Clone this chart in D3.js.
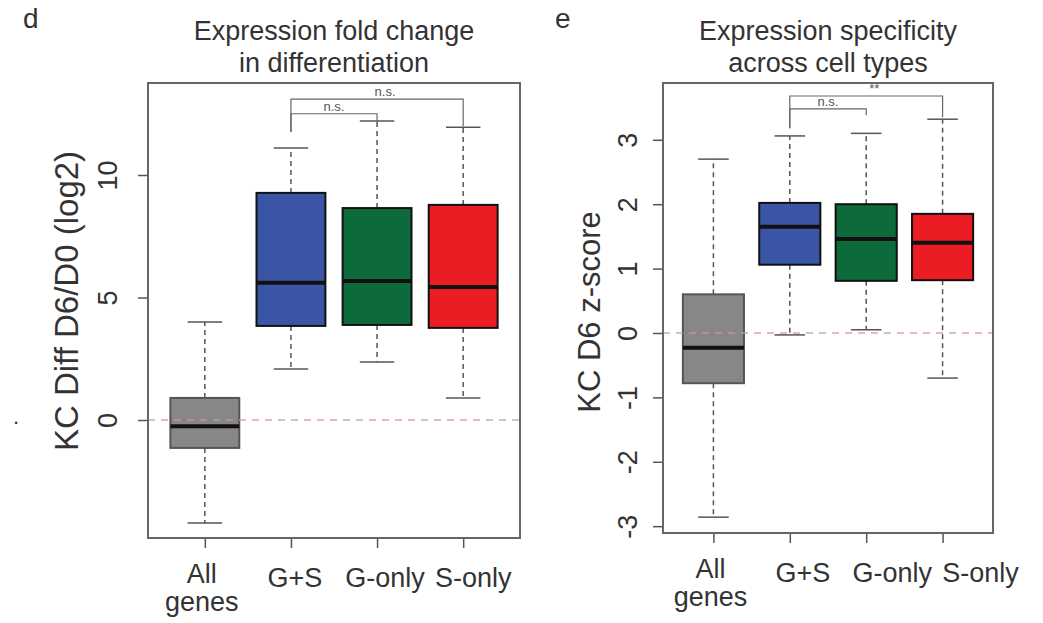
<!DOCTYPE html>
<html>
<head>
<meta charset="utf-8">
<title>Expression boxplots</title>
<script src="https://cdn.jsdelivr.net/npm/d3@7/dist/d3.min.js"></script>
<style>
  body { margin: 0; background: #fff; }
  svg text { font-family: "Liberation Sans", Arial, sans-serif; fill: #333; }
</style>
</head>
<body>
<script>
// categories shared by both panels
var groups = ["All genes", "G+S", "G-only", "S-only"];
var groupColors = ["#878787", "#3a55a6", "#0d6a3a", "#ec1c24"];

// panel d: KC Diff D6/D0 (log2)
var foldLow  = [-4.2, 2.08, 2.37, 0.9];
var foldQ1   = [-1.14, 3.84, 3.88, 3.76];
var foldMed  = [-0.25, 5.6, 5.67, 5.43];
var foldQ3   = [0.9, 9.27, 8.65, 8.78];
var foldHigh = [4.0, 11.1, 12.2, 11.95];
var foldTicks = [0, 5, 10];
var foldBrackets = [
  {from: 2, to: 3, level: 12.5, leftEnd: 11.75, rightEnd: 12.2, label: "n.s."},
  {from: 2, to: 4, level: 13.1, leftEnd: 11.75, rightEnd: 12.0, label: "n.s."}
];

// panel e: KC D6 z-score
var zLow  = [-2.86, -0.03, 0.05, -0.70];
var zQ1   = [-0.78, 1.06, 0.81, 0.82];
var zMed  = [-0.23, 1.65, 1.46, 1.40];
var zQ3   = [0.6, 2.02, 2.0, 1.85];
var zHigh = [2.70, 3.06, 3.1, 3.32];
var zTicks = [-3, -2, -1, 0, 1, 2, 3];
var zBrackets = [
  {from: 2, to: 3, level: 3.48, leftEnd: 3.18, rightEnd: 3.38, label: "n.s."},
  {from: 2, to: 4, level: 3.68, leftEnd: 3.18, rightEnd: 3.35, label: "**"}
];

var svg = d3.select("body").append("svg")
    .attr("width", 1043)
    .attr("height", 623);

// stray mark on the left edge of the scan
svg.append("text").attr("x", 13).attr("y", 424).style("font-size", "22px").text(".");

function drawPanel(p) {
  var g = svg.append("g");
  var x = d3.scaleLinear().domain([0.34, 4.66]).range([p.left, p.right]);
  var y = d3.scaleLinear().domain(p.yDomain).range([p.bottom, p.top]);

  // letter + title
  g.append("text").attr("x", p.letterX).attr("y", 28)
    .style("font-size", "28px").text(p.letter);
  p.title.forEach(function (t, i) {
    g.append("text").attr("x", (p.left + p.right) / 2).attr("y", 40 + i * 32)
      .attr("text-anchor", "middle").style("font-size", "27px").text(t);
  });

  // y axis with R style rotated tick labels
  var ya = g.append("g").attr("transform", "translate(" + p.left + ",0)")
    .call(d3.axisLeft(y).tickValues(p.ticks).tickSize(10).tickFormat(function (d) { return String(d); }));
  ya.select(".domain").remove();
  ya.selectAll("line").attr("stroke", "#555").attr("stroke-width", 1.5);
  ya.selectAll("text")
    .attr("transform", "rotate(-90)")
    .attr("x", 0).attr("y", -p.tickGap).attr("dy", 0)
    .attr("text-anchor", "middle")
    .style("font-size", "27px").style("fill", "#333");

  g.append("text")
    .attr("transform", "translate(" + (p.left - p.labelGap) + "," + p.labelY + ") rotate(-90)")
    .attr("text-anchor", "middle").style("font-size", p.labelSize + "px").text(p.yLabel);

  // x axis ticks and labels
  var xa = g.append("g").attr("transform", "translate(0," + p.bottom + ")")
    .call(d3.axisBottom(x).tickValues([1, 2, 3, 4]).tickSize(10).tickFormat(""));
  xa.select(".domain").remove();
  xa.selectAll("line").attr("stroke", "#555").attr("stroke-width", 1.5);
  groups.forEach(function (name, i) {
    var parts = name === "All genes" ? ["All", "genes"] : [name];
    parts.forEach(function (t, j) {
      g.append("text").attr("x", x(i + 1) + p.labelShift[i])
        .attr("y", parts.length > 1 ? p.bottom + 45 + j * 28 : p.bottom + 49)
        .attr("text-anchor", "middle").style("font-size", "27px").text(t);
    });
  });

  // boxes
  var rows = groups.map(function (d, i) {
    return {i: i + 1, lo: p.low[i], q1: p.q1[i], med: p.med[i], q3: p.q3[i], hi: p.high[i], color: groupColors[i]};
  });
  var bw = 0.4, cw = 0.2;
  var b = g.selectAll(".box").data(rows).enter().append("g");
  b.append("line")
    .attr("x1", function (d) { return x(d.i); }).attr("x2", function (d) { return x(d.i); })
    .attr("y1", function (d) { return y(d.q3); }).attr("y2", function (d) { return y(d.hi); })
    .attr("stroke", "#555").attr("stroke-width", 1.5).attr("stroke-dasharray", "5,4");
  b.append("line")
    .attr("x1", function (d) { return x(d.i); }).attr("x2", function (d) { return x(d.i); })
    .attr("y1", function (d) { return y(d.q1); }).attr("y2", function (d) { return y(d.lo); })
    .attr("stroke", "#555").attr("stroke-width", 1.5).attr("stroke-dasharray", "5,4");
  ["hi", "lo"].forEach(function (k) {
    b.append("line")
      .attr("x1", function (d) { return x(d.i - cw); }).attr("x2", function (d) { return x(d.i + cw); })
      .attr("y1", function (d) { return y(d[k]); }).attr("y2", function (d) { return y(d[k]); })
      .attr("stroke", "#555").attr("stroke-width", 1.5);
  });
  b.append("rect")
    .attr("x", function (d) { return x(d.i - bw); })
    .attr("width", function (d) { return x(d.i + bw) - x(d.i - bw); })
    .attr("y", function (d) { return y(d.q3); })
    .attr("height", function (d) { return y(d.q1) - y(d.q3); })
    .attr("fill", function (d) { return d.color; })
    .attr("stroke", function (d) { return d.i === 1 ? "#555" : "#111"; })
    .attr("stroke-width", 2);
  b.append("line")
    .attr("x1", function (d) { return x(d.i - bw); }).attr("x2", function (d) { return x(d.i + bw); })
    .attr("y1", function (d) { return y(d.med); }).attr("y2", function (d) { return y(d.med); })
    .attr("stroke", "#111").attr("stroke-width", 4);

  // zero reference line
  g.append("line")
    .attr("x1", p.left).attr("x2", p.right)
    .attr("y1", y(0)).attr("y2", y(0))
    .attr("stroke", "#cf9a9a").attr("stroke-width", 1.5).attr("stroke-dasharray", "7,6")
    .attr("opacity", 0.85);

  // significance brackets
  p.brackets.forEach(function (br) {
    var path = d3.path();
    path.moveTo(x(br.from), y(br.leftEnd));
    path.lineTo(x(br.from), y(br.level));
    path.lineTo(x(br.to), y(br.level));
    path.lineTo(x(br.to), y(br.rightEnd));
    g.append("path").attr("d", path.toString())
      .attr("fill", "none").attr("stroke", "#666").attr("stroke-width", 1.2);
    g.append("text").attr("x", (x(br.from) + x(br.to)) / 2 + (br.to === 4 ? 8 : 0))
      .attr("y", y(br.level) - 3).attr("text-anchor", "middle")
      .style("font-size", "13px").style("fill", "#555").text(br.label);
  });

  // frame
  g.append("rect").attr("x", p.left).attr("y", p.top)
    .attr("width", p.right - p.left).attr("height", p.bottom - p.top)
    .attr("fill", "none").attr("stroke", "#666").attr("stroke-width", 2);
}

drawPanel({
  letter: "d", letterX: 23, title: ["Expression fold change", "in differentiation"],
  left: 148, right: 520, top: 83, bottom: 538,
  yDomain: [-4.816, 13.755], ticks: foldTicks, tickGap: 31,
  labelGap: 70, labelY: 301, labelSize: 33,
  labelShift: [-3, 4, 8, 10],
  yLabel: "KC Diff D6/D0 (log2)",
  low: foldLow, q1: foldQ1, med: foldMed, q3: foldQ3, high: foldHigh,
  brackets: foldBrackets
});

drawPanel({
  letter: "e", letterX: 555, title: ["Expression specificity", "across cell types"],
  left: 663, right: 993, top: 83, bottom: 533,
  yDomain: [-3.106, 3.882], ticks: zTicks, tickGap: 26,
  labelGap: 63, labelY: 312, labelSize: 31,
  labelShift: [-3, 13, 26, 38],
  yLabel: "KC D6 z-score",
  low: zLow, q1: zQ1, med: zMed, q3: zQ3, high: zHigh,
  brackets: zBrackets
});
</script>
</body>
</html>
